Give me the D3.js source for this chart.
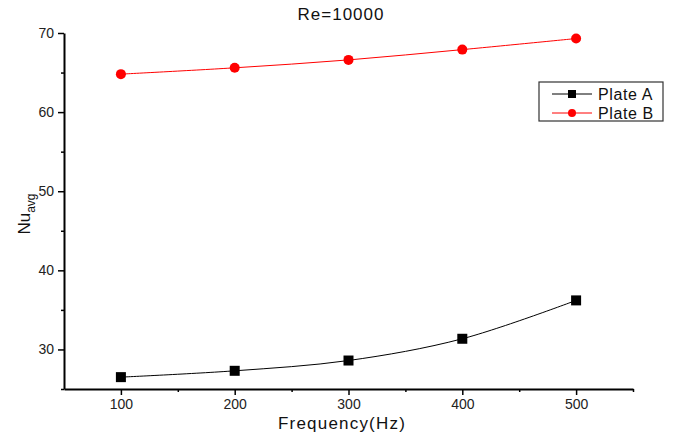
<!DOCTYPE html>
<html>
<head>
<meta charset="utf-8">
<script src="https://cdn.jsdelivr.net/npm/d3@7"></script>
<style>
  body { margin: 0; background: #fff; }
  svg text { font-family: "Liberation Sans", Arial, sans-serif; }
</style>
</head>
<body>
<div id="chart"></div>
<script>
var frequency = [100, 200, 300, 400, 500];
var plateA = [26.5, 27.3, 28.6, 31.35, 36.2];
var plateB = [64.8, 65.6, 66.6, 67.9, 69.3];
var xTicks = [100, 200, 300, 400, 500];
var yTicks = [30, 40, 50, 60, 70];

var margin = {top: 33, right: 40, bottom: 47, left: 64},
  width = 673 - margin.left - margin.right,
  height = 436 - margin.top - margin.bottom;

var svg = d3.select("#chart")
  .append("svg")
    .attr("width", 673)
    .attr("height", 436)
  .append("g")
    .attr("transform", "translate(" + margin.left + "," + margin.top + ")");

var x = d3.scaleLinear().domain([50, 550]).range([0, width]);
var y = d3.scaleLinear().domain([25, 70]).range([height, 0]);

// minor ticks
svg.append("g")
  .attr("transform", "translate(0," + height + ")")
  .call(d3.axisBottom(x).tickValues([150, 250, 350, 450, 550]).tickSize(3).tickFormat(""))
  .call(function(g) { g.select(".domain").remove(); });
svg.append("g")
  .call(d3.axisLeft(y).tickValues([25, 35, 45, 55, 65]).tickSize(3).tickFormat(""))
  .call(function(g) { g.select(".domain").remove(); });

// major axes
var xAxis = svg.append("g")
  .attr("transform", "translate(0," + height + ")")
  .call(d3.axisBottom(x).tickValues(xTicks).tickSize(6).tickSizeOuter(0).tickPadding(4));
var yAxis = svg.append("g")
  .call(d3.axisLeft(y).tickValues(yTicks).tickSize(6).tickSizeOuter(0).tickPadding(4));

svg.selectAll(".domain").style("stroke", "#000").style("stroke-width", 2);
svg.selectAll(".tick line").style("stroke", "#000").style("stroke-width", 1.5);
svg.selectAll(".tick text").style("font-size", "14px").style("fill", "#222");

var line = d3.line()
  .x(function(d) { return x(d[0]); })
  .y(function(d) { return y(d[1]); })
  .curve(d3.curveCatmullRom);

var seriesA = frequency.map(function(f, i) { return [f, plateA[i]]; });
var seriesB = frequency.map(function(f, i) { return [f, plateB[i]]; });

svg.append("path")
  .datum(seriesA)
  .attr("d", line)
  .style("fill", "none")
  .style("stroke", "#000")
  .style("stroke-width", 1);
svg.append("path")
  .datum(seriesB)
  .attr("d", line)
  .style("fill", "none")
  .style("stroke", "#ff0000")
  .style("stroke-width", 1);

svg.selectAll(".markA")
  .data(seriesA)
  .enter()
  .append("rect")
  .attr("x", function(d) { return x(d[0]) - 5; })
  .attr("y", function(d) { return y(d[1]) - 5; })
  .attr("width", 10)
  .attr("height", 10)
  .style("fill", "#000");

svg.selectAll(".markB")
  .data(seriesB)
  .enter()
  .append("circle")
  .attr("cx", function(d) { return x(d[0]); })
  .attr("cy", function(d) { return y(d[1]); })
  .attr("r", 5)
  .style("fill", "#ff0000");

// title
svg.append("text")
  .attr("x", 341 - margin.left)
  .attr("y", 20 - margin.top)
  .style("text-anchor", "middle")
  .style("font-size", "17px")
  .style("letter-spacing", "1px")
  .style("fill", "#111")
  .text("Re=10000");

// x label
svg.append("text")
  .attr("x", 342 - margin.left)
  .attr("y", 429 - margin.top)
  .style("text-anchor", "middle")
  .style("font-size", "17px")
  .style("letter-spacing", "1.2px")
  .style("fill", "#111")
  .text("Frequency(Hz)");

// y label
var ylab = svg.append("text")
  .attr("transform", "translate(" + (30 - margin.left) + "," + (214 - margin.top) + ") rotate(-90)")
  .style("text-anchor", "middle")
  .style("font-size", "17px")
  .style("fill", "#111");
ylab.append("tspan").text("Nu");
ylab.append("tspan").attr("dy", 5).style("font-size", "12px").text("avg");

// legend
var legend = svg.append("g")
  .attr("transform", "translate(" + (539 - margin.left) + "," + (82 - margin.top) + ")");
legend.append("rect")
  .attr("width", 124)
  .attr("height", 39)
  .style("fill", "#fff")
  .style("stroke", "#333")
  .style("stroke-width", 1.2);

var legendItems = [
  {name: "Plate A", color: "#000", shape: "square"},
  {name: "Plate B", color: "#ff0000", shape: "circle"}
];
legendItems.forEach(function(item, i) {
  var g = legend.append("g").attr("transform", "translate(0," + (12 + i * 19) + ")");
  g.append("line")
    .attr("x1", 13).attr("x2", 53)
    .style("stroke", item.color).style("stroke-width", 1);
  if (item.shape === "square") {
    g.append("rect").attr("x", 29).attr("y", -4).attr("width", 8).attr("height", 8).style("fill", item.color);
  } else {
    g.append("circle").attr("cx", 33).attr("r", 4).style("fill", item.color);
  }
  g.append("text")
    .attr("x", 59)
    .attr("y", 6)
    .style("font-size", "16px")
    .style("letter-spacing", "0.6px")
    .style("fill", "#111")
    .text(item.name);
});
</script>
</body>
</html>
